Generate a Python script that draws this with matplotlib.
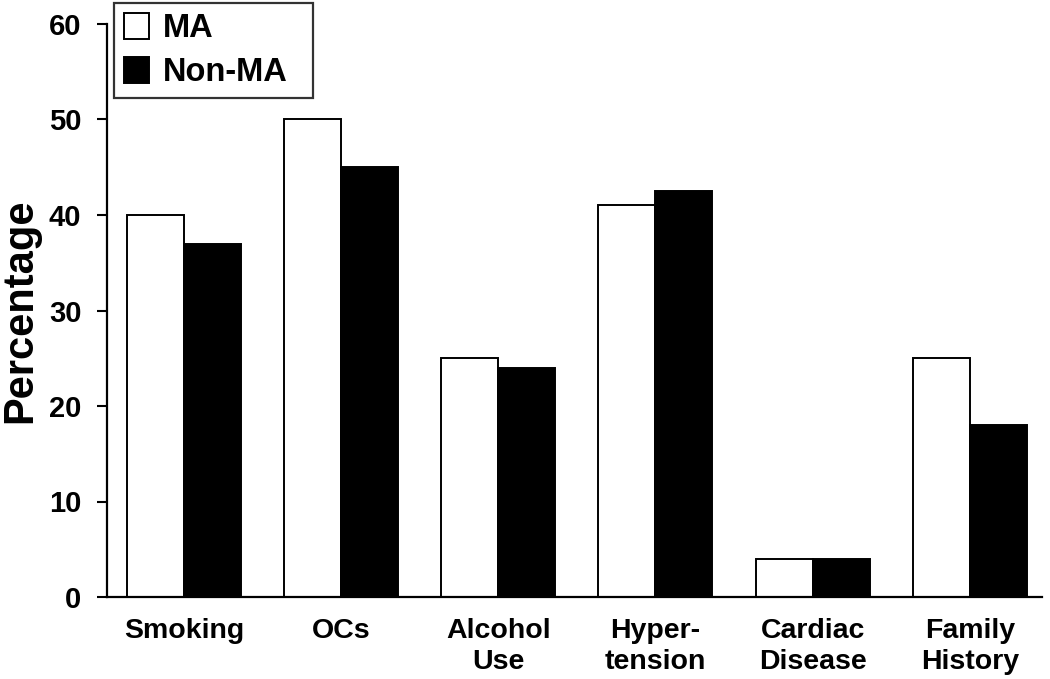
import matplotlib
matplotlib.use("Agg")
import matplotlib.pyplot as plt
import numpy as np

categories = ["Smoking", "OCs", "Alcohol\nUse", "Hyper-\ntension", "Cardiac\nDisease", "Family\nHistory"]
ma_values = [40, 50, 25, 41, 4, 25]
non_ma_values = [37, 45, 24, 42.5, 4, 18]
series_labels = ["MA", "Non-MA"]
y_ticks = [0, 10, 20, 30, 40, 50, 60]

plt.rcParams['font.family'] = ['Liberation Sans', 'DejaVu Sans']
plt.rcParams['font.weight'] = 'bold'

fig = plt.figure(figsize=(10.5, 6.79), dpi=100)
W, H = 1050, 679
ax = fig.add_axes([107 / W, 1 - 597 / H, (1042 - 107) / W, (597 - 24) / H])

x = np.arange(len(categories))
w = 0.363
ax.bar(x - w / 2, ma_values, w, color="white", edgecolor="black", linewidth=1.4, label=series_labels[0], zorder=2)
ax.bar(x + w / 2, non_ma_values, w, color="black", edgecolor="black", linewidth=1.4, label=series_labels[1], zorder=2)

ax.set_xlim(-0.49, 5.46)
ax.set_ylim(0, 60)
ax.set_yticks(y_ticks)
ax.set_yticklabels([str(t) for t in y_ticks], fontsize=21, fontweight="bold")
ax.set_xticks(x)
ax.set_xticklabels(categories, fontsize=20.5, fontweight="bold", linespacing=1.25)
ax.tick_params(axis="x", length=0, pad=15)
ax.tick_params(axis="y", direction="out", length=7.5, width=1.5, pad=11)

for s in ["top", "right"]:
    ax.spines[s].set_visible(False)
for s in ["left", "bottom"]:
    ax.spines[s].set_linewidth(1.6)

ax.set_ylabel("Percentage", fontsize=30, fontweight="bold", labelpad=6)

leg = fig.legend(loc="upper left", bbox_to_anchor=(114 / W, 1 - 99 / H, (313 - 114) / W, 96 / H),
                 mode="expand", borderaxespad=0,
                 fontsize=23.5, frameon=True, fancybox=False, edgecolor="black",
                 handlelength=0.78, handleheight=0.85, handletextpad=0.42,
                 labelspacing=0.38, borderpad=0.3)
leg.get_frame().set_linewidth(1.6)
for t in leg.get_texts():
    t.set_fontweight("bold")

fig.savefig("out.png", dpi=100)
